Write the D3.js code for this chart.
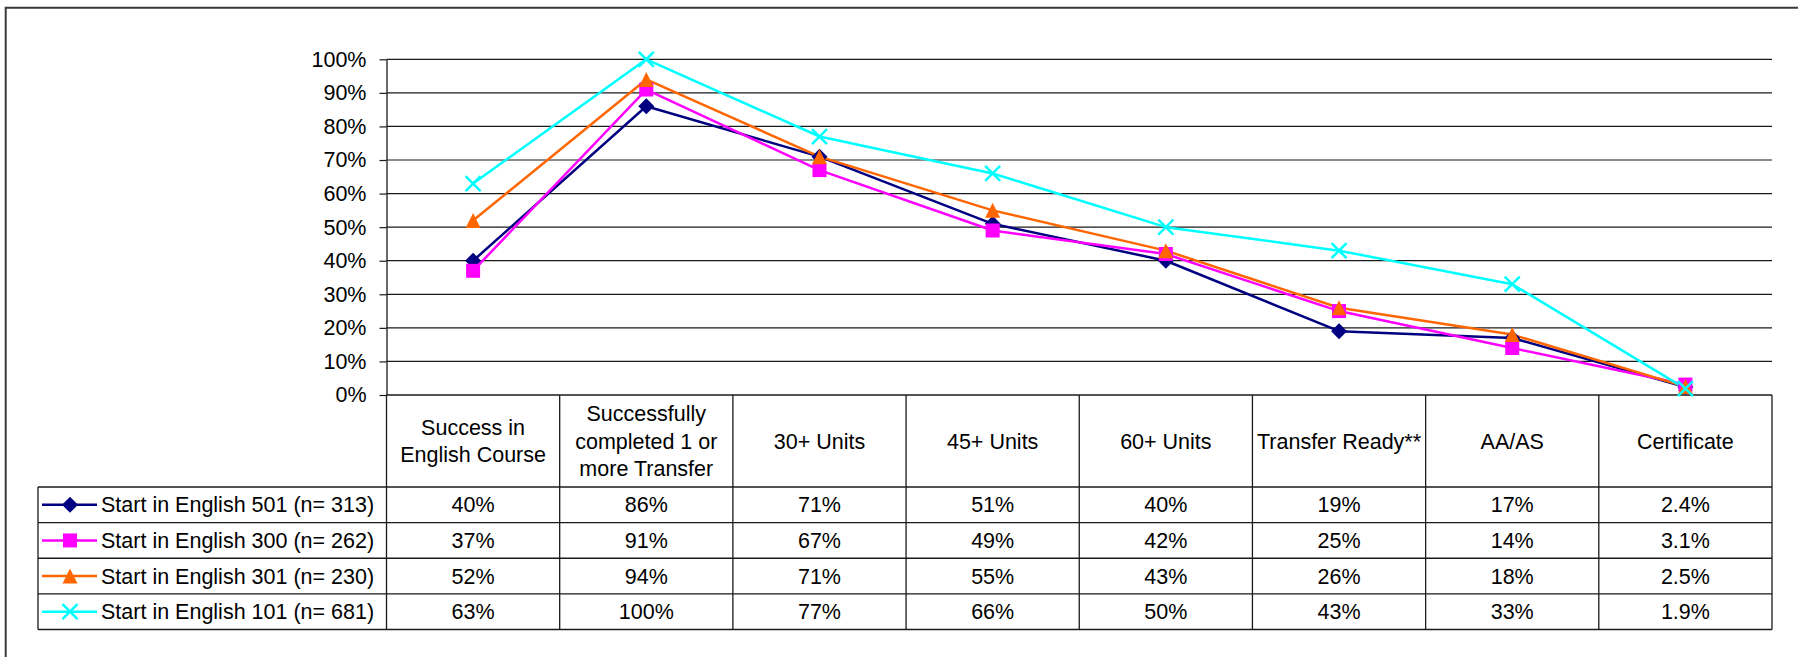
<!DOCTYPE html>
<html>
<head>
<meta charset="utf-8">
<script src="https://cdn.jsdelivr.net/npm/d3@7"></script>
<style>
  html, body { margin: 0; padding: 0; background: #fff; }
  svg { display: block; }
  text { font-family: "Liberation Sans", Arial, sans-serif; font-size: 21.5px; fill: #000; }
</style>
</head>
<body>
<svg id="chart" width="1798" height="657"></svg>
<script>
// ---- Data ----
const categories = [
  "Success in\nEnglish Course",
  "Successfully\ncompleted 1 or\nmore Transfer",
  "30+ Units",
  "45+ Units",
  "60+ Units",
  "Transfer Ready**",
  "AA/AS",
  "Certificate"
];
const seriesNames = [
  "Start in English 501 (n= 313)",
  "Start in English 300 (n= 262)",
  "Start in English 301 (n= 230)",
  "Start in English 101 (n= 681)"
];
const english501 = [40, 86, 71, 51, 40, 19, 17, 2.4];
const english300 = [37, 91, 67, 49, 42, 25, 14, 3.1];
const english301 = [52, 94, 71, 55, 43, 26, 18, 2.5];
const english101 = [63, 100, 77, 66, 50, 43, 33, 1.9];
const yTicks = [0, 10, 20, 30, 40, 50, 60, 70, 80, 90, 100];

const seriesValues = [english501, english300, english301, english101];
const seriesColors = ["#000080", "#FF00FF", "#FF6600", "#00FFFF"];
const seriesMarkers = ["diamond", "square", "triangle", "x"];

// ---- Custom marker shapes ----
const markerTypes = {
  diamond: { draw(ctx, size) { const r = Math.sqrt(size) / 2; ctx.moveTo(0, -r); ctx.lineTo(r, 0); ctx.lineTo(0, r); ctx.lineTo(-r, 0); ctx.closePath(); } },
  square: { draw(ctx, size) { const r = Math.sqrt(size) / 2; ctx.rect(-r, -r, 2 * r, 2 * r); } },
  triangle: { draw(ctx, size) { const r = Math.sqrt(size) / 2; ctx.moveTo(0, -r); ctx.lineTo(r, r); ctx.lineTo(-r, r); ctx.closePath(); } },
  x: { draw(ctx, size) { const r = Math.sqrt(size) / 2; ctx.moveTo(-r, -r); ctx.lineTo(r, r); ctx.moveTo(r, -r); ctx.lineTo(-r, r); } }
};
const markerSizes = { diamond: 16 * 16, square: 14 * 14, triangle: 15 * 15, x: 15 * 15 };

// ---- Layout ----
const svg = d3.select("#chart");
const plotLeft = 386.5, plotRight = 1772, plotTop = 59.3, plotBottom = 395;
const headerBottom = 487, tableBottom = 629.5, tableLeft = 38;

const x = d3.scaleBand().domain(d3.range(categories.length)).range([plotLeft, plotRight]).padding(0);
const y = d3.scaleLinear().domain([0, 100]).range([plotBottom, plotTop]);
const rowY = d3.scaleBand().domain(d3.range(seriesNames.length)).range([headerBottom, tableBottom]).padding(0);
const cx = i => x(i) + x.bandwidth() / 2;

// outer frame
svg.append("path")
  .attr("d", `M5.7,660 L5.7,7.7 L1800,7.7`)
  .attr("fill", "none").attr("stroke", "#3a3a3a").attr("stroke-width", 2);

// gridlines
svg.append("g").selectAll("line").data(yTicks.filter(d => d > 0)).join("line")
  .attr("x1", plotLeft).attr("x2", plotRight)
  .attr("y1", d => y(d)).attr("y2", d => y(d))
  .attr("stroke", "#1a1a1a").attr("stroke-width", 1.2);

// y axis
const yAxis = d3.axisLeft(y).tickValues(yTicks).tickFormat(d => d + "%").tickSize(7).tickSizeOuter(0).tickPadding(13);
const ag = svg.append("g").attr("transform", `translate(${plotLeft},0)`).call(yAxis);
ag.selectAll("text").style("font-size", "21.5px").style("font-family", '"Liberation Sans", Arial, sans-serif').attr("fill", "#000");
ag.selectAll("line").attr("stroke", "#1a1a1a").attr("stroke-width", 1.2);
ag.select(".domain").attr("stroke", "#1a1a1a").attr("stroke-width", 1.3);

// ---- Table ----
const tbl = svg.append("g");
tbl.append("line").attr("x1", plotLeft).attr("x2", plotRight).attr("y1", plotBottom).attr("y2", plotBottom)
  .attr("stroke", "#1a1a1a").attr("stroke-width", 1.5);
const rowLines = d3.range(seriesNames.length + 1).map(i => i < seriesNames.length ? rowY(i) : tableBottom);
tbl.selectAll(".hrow").data(rowLines).join("line").attr("class", "hrow")
  .attr("x1", tableLeft).attr("x2", plotRight)
  .attr("y1", d => d).attr("y2", d => d)
  .attr("stroke", "#1a1a1a").attr("stroke-width", 1.3);
const colLines = d3.range(categories.length + 1).map(i => i < categories.length ? x(i) : plotRight);
tbl.selectAll(".vcol").data(colLines).join("line").attr("class", "vcol")
  .attr("x1", d => d).attr("x2", d => d)
  .attr("y1", plotBottom).attr("y2", tableBottom)
  .attr("stroke", "#1a1a1a").attr("stroke-width", 1.3);
tbl.append("line").attr("x1", tableLeft).attr("x2", tableLeft).attr("y1", headerBottom).attr("y2", tableBottom)
  .attr("stroke", "#1a1a1a").attr("stroke-width", 1.3);

// header labels
const lineH = 27.3;
const headerMid = (plotBottom + headerBottom) / 2;
categories.forEach((c, i) => {
  const lines = c.split("\n");
  const t = tbl.append("text").attr("text-anchor", "middle");
  lines.forEach((ln, k) => {
    t.append("tspan").attr("x", cx(i))
      .attr("y", headerMid + (k - (lines.length - 1) / 2) * lineH)
      .attr("dy", "0.35em").text(ln);
  });
});

// values
const fmt = v => (v < 10 ? v.toFixed(1) : v.toFixed(0)) + "%";
seriesValues.forEach((vals, s) => {
  tbl.selectAll(".v" + s).data(vals).join("text").attr("class", "v" + s)
    .attr("text-anchor", "middle")
    .attr("x", (d, i) => cx(i))
    .attr("y", rowY(s) + rowY.bandwidth() / 2)
    .attr("dy", "0.35em")
    .text(d => fmt(d));
});

// legend entries
seriesNames.forEach((name, s) => {
  const yy = rowY(s) + rowY.bandwidth() / 2;
  const g = tbl.append("g");
  g.append("line").attr("x1", 42).attr("x2", 97).attr("y1", yy).attr("y2", yy)
    .attr("stroke", seriesColors[s]).attr("stroke-width", 2.5);
  const m = seriesMarkers[s];
  g.append("path").attr("transform", `translate(70,${yy})`)
    .attr("d", d3.symbol().type(markerTypes[m]).size(markerSizes[m])())
    .attr("fill", m === "x" ? "none" : seriesColors[s])
    .attr("stroke", m === "x" ? seriesColors[s] : "none")
    .attr("stroke-width", 2.5);
  g.append("text").attr("x", 101).attr("y", yy).attr("dy", "0.35em").text(name);
});

// ---- Lines & markers ----
const line = d3.line().x((d, i) => cx(i)).y(d => y(d));
const lg = svg.append("g");
seriesValues.forEach((vals, s) => {
  lg.append("path").attr("d", line(vals)).attr("fill", "none")
    .attr("stroke", seriesColors[s]).attr("stroke-width", 2.5).attr("stroke-linejoin", "round");
});
seriesValues.forEach((vals, s) => {
  const m = seriesMarkers[s];
  lg.selectAll(".m" + s).data(vals).join("path").attr("class", "m" + s)
    .attr("transform", (d, i) => `translate(${cx(i)},${y(d)})`)
    .attr("d", d3.symbol().type(markerTypes[m]).size(markerSizes[m])())
    .attr("fill", m === "x" ? "none" : seriesColors[s])
    .attr("stroke", m === "x" ? seriesColors[s] : "none")
    .attr("stroke-width", 2.5);
});
</script>
</body>
</html>
